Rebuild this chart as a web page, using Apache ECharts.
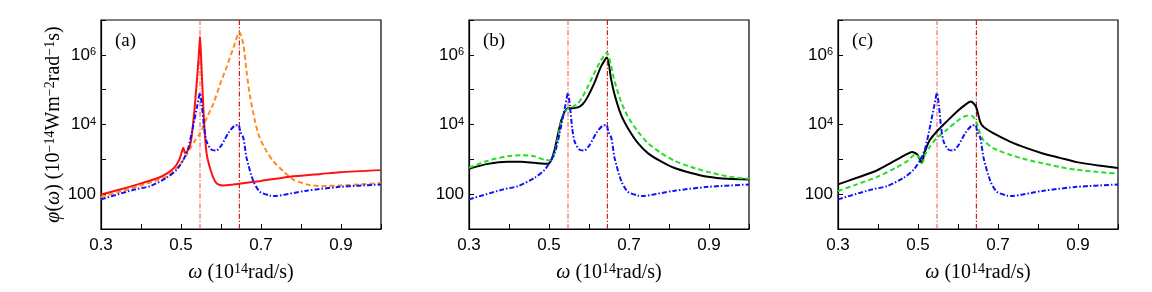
<!DOCTYPE html>
<html><head><meta charset="utf-8">
<script src="https://cdn.jsdelivr.net/npm/echarts/dist/echarts.min.js"></script>
<style>html,body{margin:0;padding:0;background:#fff}#c{width:1152px;height:292px}</style>
</head><body><div id="c"></div><script>
// ---- data (omega in 10^14 rad/s, phi in 10^-14 W m^-2 rad^-1 s) ----
const xTicks = [0.3, 0.5, 0.7, 0.9];
const yTickLabels = {2: '100', 4: '10{s|4}', 6: '10{s|6}'};
const resonances = [0.5475, 0.646];
const panelLabels = ['(a)', '(b)', '(c)'];

// blue dash-dot (same in all panels)
const blueW = [0.30,0.383,0.4225,0.464,0.489,0.506,0.518,0.531,0.541,0.5475,0.552,0.558,0.564,0.576,0.5875,0.602,0.618,0.635,0.644,0.648,0.656,0.664,0.681,0.697,0.722,0.731,0.814,0.897,1.0];
const blueV = [71,135,170,295,500,980,2090,9800,36300,79400,36300,7940,3240,1900,1780,2630,5620,9330,9550,6310,4070,1100,234,117,91,89,126,162,190];

// panel (a) red solid
const redW = [0.30,0.35,0.40,0.45,0.48,0.495,0.503,0.506,0.510,0.515,0.5225,0.5267,0.531,0.535,0.5417,0.5458,0.5475,0.5495,0.5517,0.5545,0.5575,0.564,0.5767,0.589,0.6058,0.62,0.646,0.70,0.772,0.85,0.897,1.0];
const redV = [98,138,204,316,525,933,1780,2140,1510,1660,2510,4470,13200,39800,355000,1660000,3310000,1260000,355000,63100,13200,1480,398,204,178,182,200,240,316,380,427,490];

// panel (a) orange dashed
const orangeW = [0.30,0.40,0.464,0.4975,0.514,0.531,0.5475,0.564,0.581,0.5975,0.614,0.631,0.646,0.656,0.664,0.672,0.685,0.697,0.714,0.731,0.756,0.781,0.814,0.847,0.897,0.947,1.0];
const orangeV = [83,178,324,708,1350,2950,5620,15100,40000,141000,447000,1590000,4470000,1910000,324000,70800,12300,4070,1700,871,457,263,191,170,178,191,209];

// panel (b) black solid
const blackBW = [0.30,0.347,0.397,0.43,0.463,0.497,0.505,0.513,0.522,0.53,0.538,0.547,0.559,0.572,0.584,0.597,0.613,0.63,0.645,0.655,0.663,0.68,0.697,0.722,0.747,0.78,0.814,0.855,0.897,0.947,1.0];
const blackBV = [537,741,851,851,794,741,912,1700,5010,12300,21900,29500,29500,30900,38000,63100,151000,457000,832000,209000,79400,19100,7940,2950,1510,871,562,407,316,275,263];

// panel (b) green dashed
const greenBW = [0.30,0.347,0.397,0.43,0.463,0.488,0.505,0.513,0.522,0.53,0.538,0.547,0.559,0.572,0.584,0.597,0.613,0.63,0.645,0.655,0.663,0.68,0.697,0.722,0.747,0.78,0.814,0.855,0.897,0.947,1.0];
const greenBV = [575,912,1230,1320,1230,977,933,1350,3980,11000,20900,28200,32400,39800,63100,123000,295000,708000,1150000,501000,191000,45700,17000,6310,2950,1510,912,603,437,324,275];

// panel (c) black solid
const blackCW = [0.30,0.347,0.397,0.447,0.472,0.485,0.499,0.509,0.5175,0.53,0.547,0.572,0.597,0.622,0.632,0.645,0.655,0.663,0.688,0.73,0.772,0.814,0.855,0.897,0.947,1.0];
const blackCV = [191,295,479,977,1410,1620,1350,794,1700,3630,6310,12300,23400,39800,45700,32400,12300,8710,5620,3240,2090,1450,1100,832,676,562];

// panel (c) green dashed
const greenCW = [0.30,0.347,0.397,0.447,0.472,0.4925,0.505,0.511,0.5175,0.53,0.547,0.572,0.597,0.622,0.634,0.645,0.655,0.663,0.688,0.73,0.772,0.814,0.855,0.897,0.947,1.0];
const greenCV = [123,191,309,589,871,1350,1100,794,1350,2340,4070,7080,12300,17800,17800,12300,5620,3630,2090,1350,977,759,603,501,437,389];

// ---- chart ----
const zip = (w, v) => w.map((x, i) => [x, v[i]]);
const lefts = [101, 469, 838];
const serif = 'Liberation Serif';
const sans = 'Liberation Sans';
const yMin = 10, yMax = 1e7;

const grids = lefts.map(l => ({left: l, top: 20, width: 280, height: 209, show: true, borderColor: '#000', borderWidth: 1.2, backgroundColor: 'transparent'}));

const titleRich = {
  i: {fontFamily: serif, fontStyle: 'italic', fontSize: 20, color: '#000'},
  s: {fontFamily: serif, fontSize: 14, verticalAlign: 'top', padding: [0, 0, 7, 0], color: '#000'}
};

const xAxes = lefts.map((l, i) => ({
  type: 'value', gridIndex: i, min: 0.3, max: 1.0, interval: 0.1,
  axisLine: {show: true, lineStyle: {color: '#000', width: 1.2}},
  axisTick: {show: true, inside: true, length: 5, lineStyle: {color: '#000'}},
  splitLine: {show: false},
  axisLabel: {
    margin: 8, color: '#000', fontFamily: sans, fontSize: 17,
    formatter: v => xTicks.some(t => Math.abs(t - v) < 1e-6) ? v.toFixed(1) : ''
  },
  name: '{i|ω} (10{s|14}rad/s)', nameLocation: 'middle', nameGap: 33,
  nameTextStyle: {fontFamily: serif, fontSize: 20, color: '#000', rich: titleRich}
}));

const yAxes = lefts.map((l, i) => ({
  type: 'log', logBase: 10, gridIndex: i, min: yMin, max: yMax, interval: 1,
  axisLine: {show: true, lineStyle: {color: '#000', width: 1.2}},
  axisTick: {show: true, inside: true, length: 5, lineStyle: {color: '#000'}},
  splitLine: {show: false}, minorTick: {show: false},
  axisLabel: {
    margin: 5, color: '#000', fontFamily: sans, fontSize: 17,
    formatter: v => { const e = Math.round(Math.log10(v)); return yTickLabels[e] || ''; },
    rich: {s: {fontFamily: sans, fontSize: 11, verticalAlign: 'top', padding: [0, 0, 4, 0], color: '#000'}}
  },
  name: i === 0 ? '{i|φ}({i|ω}) (10{s|−14}Wm{s|−2}rad{s|−1}s)' : '',
  nameLocation: 'middle', nameRotate: 90, nameGap: 29,
  nameTextStyle: {fontFamily: serif, fontSize: 20, color: '#000', rich: titleRich}
}));

function line(idx, data, color, type, width, z) {
  return {type: 'line', xAxisIndex: idx, yAxisIndex: idx, data: data, showSymbol: false,
    smooth: 0.25, z: z, lineStyle: {color: color, type: type, width: width, cap: 'butt'}, animation: false};
}
const dashDot = [5, 2, 1.5, 2];
const dashed = [5, 3];
const vColors = ['#ff6464', '#d81818'];
const vlines = [];
for (let idx = 0; idx < 3; idx++) {
  resonances.forEach((r, k) => {
    vlines.push({type: 'line', xAxisIndex: idx, yAxisIndex: idx, data: [[r, yMin], [r, yMax]], showSymbol: false,
      z: 1, animation: false, silent: true,
      lineStyle: {color: vColors[k], width: 1.2, type: [5, 2, 1.2, 2]}});
  });
}

const series = vlines.concat([
  line(0, zip(orangeW, orangeV), '#ff8c1a', dashed, 2, 3),
  line(0, zip(redW, redV), '#ff1010', 'solid', 2, 4),
  line(0, zip(blueW, blueV), '#1010ff', dashDot, 2, 5),
  line(1, zip(blackBW, blackBV), '#000000', 'solid', 2, 3),
  line(1, zip(greenBW, greenBV), '#22e022', dashed, 2, 4),
  line(1, zip(blueW, blueV), '#1010ff', dashDot, 2, 5),
  line(2, zip(blackCW, blackCV), '#000000', 'solid', 2, 3),
  line(2, zip(greenCW, greenCV), '#22e022', dashed, 2, 4),
  line(2, zip(blueW, blueV), '#1010ff', dashDot, 2, 5)
]);

const graphics = panelLabels.map((t, i) => ({type: 'text', left: lefts[i] + 14, top: 32, z: 10,
  style: {text: t, fontFamily: serif, fontSize: 19, fill: '#000'}}));

const chart = echarts.init(document.getElementById('c'), null, {renderer: 'canvas'});
chart.setOption({backgroundColor: '#fff', animation: false, grid: grids, xAxis: xAxes, yAxis: yAxes, series: series, graphic: graphics});
</script></body></html>
